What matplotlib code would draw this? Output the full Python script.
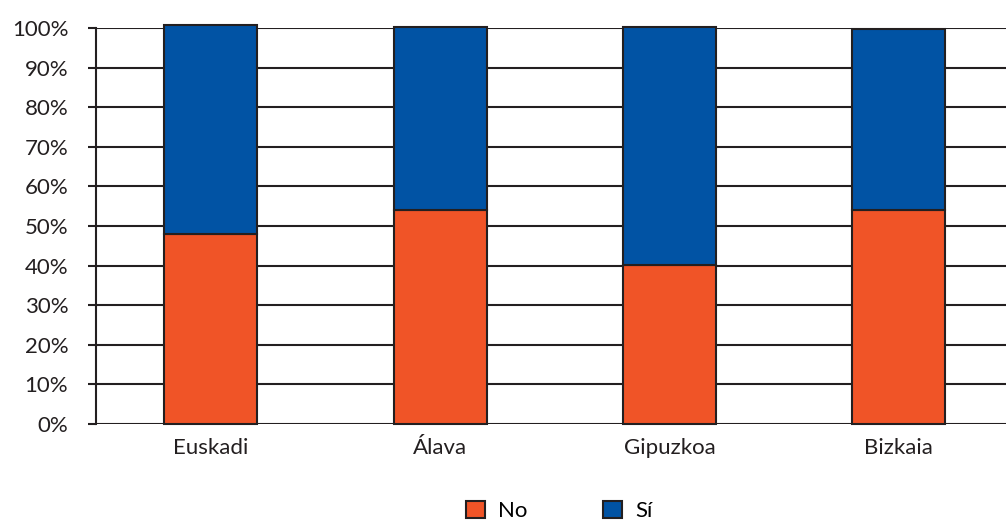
import matplotlib.pyplot as plt
import numpy as np

# Data
regions = ['Euskadi', 'Álava', 'Gipuzkoa', 'Bizkaia']
no_vals = [48.1, 54.0, 40.2, 54.0]
si_vals = [52.6, 46.3, 60.1, 45.7]
series_labels = ['No', 'Sí']
yticks = [0, 10, 20, 30, 40, 50, 60, 70, 80, 90, 100]

orange = '#F05427'
blue = '#0153A4'
dark = '#231F20'

plt.rcParams['font.family'] = ['Lato', 'DejaVu Sans']

fig = plt.figure(figsize=(10.06, 5.24), dpi=100)
ax = fig.add_axes([96 / 1006, 100 / 524, 917.5 / 1006, 396 / 524])

x = np.arange(len(regions))
w = 0.405
ax.bar(x, no_vals, width=w, color=orange, edgecolor=dark, linewidth=1.5,
       label=series_labels[0], zorder=3, clip_on=False)
ax.bar(x, si_vals, width=w, bottom=no_vals, color=blue, edgecolor=dark,
       linewidth=1.5, label=series_labels[1], zorder=3, clip_on=False)

ax.set_xlim(-0.5, 3.5)
ax.set_ylim(0, 100)
ax.set_yticks(yticks)
ax.set_yticklabels([f'{v}%' for v in yticks])
ax.set_xticks(x)
ax.set_xticklabels(regions)

ax.yaxis.grid(True, color=dark, linewidth=1.5, zorder=1)
ax.tick_params(axis='y', length=6, width=1.5, color=dark, pad=14,
               labelsize=16, labelcolor=dark)
ax.tick_params(axis='x', length=0, pad=10, labelsize=16, labelcolor=dark)

for s in ['top', 'right', 'bottom']:
    ax.spines[s].set_visible(False)
ax.spines['left'].set_color(dark)
ax.spines['left'].set_linewidth(1.5)

fig.legend(loc='center', bbox_to_anchor=(559 / 1006, 1 - 511 / 524),
           ncol=2, frameon=False, fontsize=16, handlelength=0.85,
           handleheight=0.85, handletextpad=0.6, columnspacing=3.4)

plt.savefig('out.png', dpi=100)
